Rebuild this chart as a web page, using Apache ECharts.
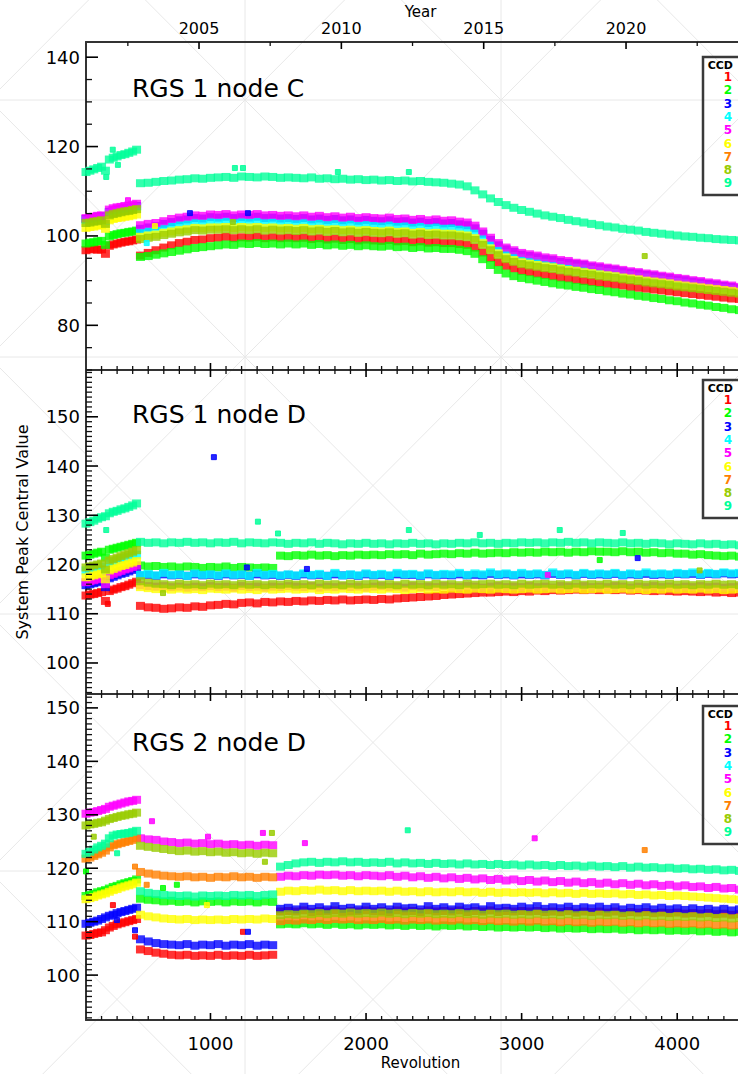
<!DOCTYPE html>
<html>
<head>
<meta charset="utf-8">
<script src="https://cdn.jsdelivr.net/npm/echarts@6/dist/echarts.min.js"></script>
<style>
html,body{margin:0;padding:0;background:#fff}
#chart{width:738px;height:1074px}
</style>
</head>
<body>
<div id="chart"></div>
<script>
// ---------- data ----------
const CCD_NAMES = ['1','2','3','4','5','6','7','8','9'];
const CCD_COLORS = ['#ff0000','#00ff00','#0000ff','#00ffff','#ff00ff','#ffff00','#ff8000','#99cc00','#00ff99'];
const PANEL_TITLES = ['RGS 1 node C','RGS 1 node D','RGS 2 node D'];
const REV_TICKS = [1000,2000,3000,4000];
const YEAR_TICKS = [2005,2010,2015,2020];
const YEAR_MINOR_TICKS = [2002.5,2007.5,2012.5,2017.5,2022.5];

// revolution sampling of the peak values
const REVS = [200,225,250,275,300,325,350,375,400,425,450,475,500,525,
  550,600,650,700,750,800,850,900,950,1000,
  1050,1100,1150,1200,1250,1300,1350,1400,1450,1500,
  1550,1600,1650,1700,1750,1800,1850,1900,1950,2000,
  2050,2100,2150,2200,2250,2300,2350,2400,2450,2500,
  2550,2600,2650,2700,2750,2800,2850,2900,2950,3000,
  3050,3100,3150,3200,3250,3300,3350,3400,3450,3500,
  3550,3600,3650,3700,3750,3800,3850,3900,3950,4000,
  4050,4100,4150,4200,4250,4300,4350,4400,4450];

// RGS 1 node C
const R1C_1 = [96.8,97.0,97.1,96.9,97.0,96.0,97.8,98.1,98.3,98.5,98.7,98.8,99.0,99.2,
  95.6,96.2,96.8,97.4,97.9,98.4,98.7,99.1,99.2,99.5,
  99.6,99.8,99.5,99.7,99.6,99.8,99.5,99.7,99.5,99.6,
  99.5,99.6,99.3,99.5,99.2,99.4,99.1,99.3,99.0,99.2,
  99.0,98.9,99.1,98.8,98.9,98.6,98.8,98.5,98.6,98.4,
  98.4,98.2,98.0,97.4,96.3,95.1,94.1,93.3,92.7,92.2,
  91.9,91.6,91.3,91.0,90.7,90.5,90.2,89.9,89.7,89.5,
  89.3,89.1,88.9,88.6,88.4,88.2,88.0,87.8,87.6,87.4,
  87.2,87.0,86.8,86.6,86.4,86.2,86.0,85.9,85.7];
const R1C_2 = [98.3,98.5,98.6,98.8,98.9,98.0,99.9,100.2,100.4,100.6,100.7,100.9,101.0,101.2,
  95.3,95.5,95.8,96.1,96.4,96.7,97.0,97.3,97.5,97.7,
  97.9,98.1,98.0,98.3,98.2,98.4,98.2,98.3,98.1,98.3,
  98.1,98.3,98.0,98.2,97.9,98.1,97.8,98.0,97.7,97.9,
  97.7,97.6,97.8,97.5,97.6,97.3,97.5,97.2,97.3,97.1,
  97.1,96.9,96.6,96.0,94.8,93.5,92.4,91.6,91.0,90.6,
  90.3,90.0,89.7,89.4,89.1,88.9,88.6,88.4,88.1,87.9,
  87.6,87.4,87.1,86.9,86.6,86.4,86.1,85.9,85.6,85.4,
  85.1,84.9,84.6,84.4,84.1,83.9,83.6,83.4,83.1];
const R1C_3 = [103.8,104.0,104.1,104.3,104.4,103.6,105.4,105.7,105.9,106.0,106.2,106.3,106.5,106.7,
  101.6,101.9,102.2,102.7,103.1,103.5,103.7,104.0,103.9,104.2,
  104.1,104.3,104.0,104.2,104.1,104.3,104.0,104.1,103.9,104.0,
  103.8,104.0,103.7,103.9,103.6,103.8,103.5,103.7,103.4,103.6,
  103.4,103.3,103.5,103.2,103.3,103.0,103.2,102.9,103.1,102.8,
  102.9,102.6,102.4,101.7,100.5,99.1,97.9,97.0,96.4,95.8,
  95.5,95.2,94.8,94.6,94.2,94.0,93.7,93.5,93.1,92.9,
  92.6,92.4,92.1,91.8,91.6,91.3,91.1,90.8,90.6,90.3,
  90.1,89.8,89.6,89.3,89.1,88.8,88.6,88.3,88.1];
const R1C_4 = [103.5,103.7,103.8,104.0,104.1,103.3,105.1,105.4,105.6,105.7,105.9,106.0,106.2,106.4,
  100.8,101.1,101.4,101.8,102.2,102.5,102.7,103.0,102.9,103.2,
  103.1,103.3,103.0,103.2,103.1,103.2,103.0,103.1,102.9,103.0,
  102.8,103.0,102.7,102.8,102.6,102.7,102.5,102.6,102.4,102.5,
  102.3,102.2,102.4,102.1,102.2,101.9,102.1,101.8,101.9,101.7,
  101.7,101.5,101.3,100.6,99.4,98.1,96.9,96.1,95.5,95.0,
  94.7,94.4,94.0,93.8,93.5,93.2,92.9,92.7,92.4,92.2,
  91.9,91.7,91.4,91.2,90.9,90.7,90.4,90.2,89.9,89.7,
  89.4,89.2,89.0,88.7,88.5,88.3,88.1,87.8,87.6];
const R1C_5 = [104.0,104.2,104.3,104.5,104.6,103.8,105.9,106.2,106.4,106.5,106.7,106.8,107.0,107.2,
  102.4,102.7,102.9,103.3,103.8,104.1,104.3,104.6,104.5,104.8,
  104.7,104.9,104.6,104.8,104.7,104.9,104.6,104.7,104.5,104.6,
  104.4,104.6,104.3,104.5,104.2,104.4,104.1,104.3,104.0,104.2,
  104.0,103.9,104.1,103.8,103.9,103.6,103.8,103.5,103.7,103.4,
  103.5,103.2,103.0,102.3,101.0,99.6,98.4,97.4,96.8,96.2,
  95.9,95.6,95.2,95.0,94.6,94.4,94.0,93.8,93.4,93.2,
  92.9,92.7,92.4,92.1,91.9,91.6,91.4,91.1,90.9,90.6,
  90.4,90.1,89.9,89.6,89.4,89.1,88.9,88.6,88.4];
const R1C_6 = [101.8,102.0,102.1,102.3,102.4,101.6,103.5,103.8,104.0,104.1,104.3,104.4,104.6,104.8,
  99.8,100.1,100.3,100.7,101.0,101.3,101.5,101.8,101.7,101.9,
  101.9,102.0,101.8,102.0,101.9,102.0,101.8,101.9,101.7,101.8,
  101.6,101.8,101.5,101.6,101.4,101.5,101.3,101.4,101.2,101.3,
  101.1,101.0,101.2,100.9,101.0,100.7,100.9,100.6,100.7,100.5,
  100.5,100.3,100.1,99.5,98.4,97.2,96.1,95.2,94.6,94.1,
  93.8,93.5,93.2,93.0,92.7,92.4,92.2,91.9,91.7,91.4,
  91.2,91.0,90.7,90.5,90.3,90.0,89.8,89.6,89.4,89.1,
  88.9,88.7,88.5,88.3,88.1,87.9,87.7,87.5,87.3];
const R1C_7 = [];
const R1C_8 = [102.9,103.0,103.2,103.3,103.5,102.7,104.6,104.9,105.1,105.3,105.5,105.6,105.8,106.0,
  99.3,99.6,99.8,100.2,100.5,100.8,101.0,101.3,101.2,101.4,
  101.4,101.5,101.3,101.5,101.3,101.5,101.2,101.4,101.2,101.3,
  101.1,101.3,101.0,101.2,100.9,101.1,100.8,101.0,100.7,100.9,
  100.7,100.6,100.8,100.5,100.6,100.3,100.5,100.2,100.3,100.1,
  100.1,99.9,99.7,99.1,98.0,96.8,95.7,94.8,94.2,93.7,
  93.4,93.1,92.8,92.6,92.3,92.0,91.8,91.5,91.3,91.0,
  90.8,90.6,90.3,90.1,89.9,89.6,89.4,89.2,89.0,88.7,
  88.5,88.3,88.1,87.9,87.7,87.5,87.3,87.1,86.9];
const R1C_9 = [114.3,114.6,114.9,115.2,115.5,114.6,117.1,117.5,117.8,118.1,118.3,118.6,118.9,119.3,
  111.8,111.9,112.1,112.3,112.4,112.6,112.7,112.9,112.8,113.0,
  113.1,113.2,113.0,113.3,113.2,113.1,113.3,113.2,113.0,113.1,
  113.0,112.9,113.1,112.8,112.9,112.7,112.8,112.6,112.7,112.5,
  112.6,112.4,112.5,112.3,112.4,112.2,112.3,112.1,112.0,111.9,
  111.7,111.5,111.1,110.2,109.3,108.4,107.6,106.9,106.3,105.8,
  105.4,105.0,104.6,104.3,104.0,103.6,103.3,103.0,102.7,102.4,
  102.1,101.9,101.6,101.4,101.2,100.9,100.7,100.5,100.3,100.1,
  99.9,99.8,99.6,99.5,99.3,99.2,99.1,99.0,98.9];
// isolated readings: [ccd, revolution, value]
const R1C_OUT = [[9,330,113.2],[9,372,119.3],[9,405,115.9],[9,1157,115.2],[9,1209,115.2],[9,1819,114.3],[9,2275,114.3],
  [3,868,105.1],[3,1241,105.1],[5,470,108.0],[8,1144,103.1],[4,590,98.4],[6,643,102.2],[8,3791,95.5]];

// RGS 1 node D
const R1D_1 = [113.7,113.9,114.0,114.2,114.4,112.6,114.6,114.9,115.1,115.4,115.6,115.9,116.2,116.5,
  111.6,111.3,111.2,111.0,111.1,111.3,111.2,111.5,111.4,111.7,
  111.8,112.0,111.9,112.2,112.3,112.1,112.4,112.3,112.5,112.4,
  112.6,112.5,112.7,112.6,112.8,112.7,112.9,112.7,112.8,112.9,
  112.8,113.0,112.9,113.1,113.2,113.3,113.4,113.5,113.6,113.8,
  113.9,114.0,114.1,114.2,114.3,114.3,114.4,114.5,114.4,114.6,
  114.5,114.7,114.6,114.8,114.7,114.8,114.9,114.8,114.9,114.8,
  114.9,114.8,114.9,114.7,114.8,114.7,114.6,114.7,114.6,114.5,
  114.6,114.5,114.4,114.5,114.3,114.4,114.2,114.3,114.2];
const R1D_2 = [121.8,122.0,122.2,122.4,122.6,121.4,123.0,123.2,123.4,123.6,123.8,124.0,124.2,124.4,
  119.8,119.6,119.7,119.5,119.6,119.4,119.6,119.5,119.3,119.5,
  119.4,119.6,119.3,119.5,119.4,119.3,119.4,119.3,121.8,121.7,
  121.9,121.8,122.0,121.8,121.9,121.7,121.9,121.8,122.0,121.9,
  122.0,121.9,122.1,122.0,122.1,121.9,122.2,122.0,122.1,122.2,
  122.1,122.3,122.2,122.4,122.2,122.3,122.4,122.3,122.5,122.4,
  122.5,122.4,122.6,122.5,122.6,122.4,122.6,122.5,122.7,122.6,
  122.6,122.5,122.7,122.5,122.6,122.4,122.5,122.3,122.4,122.2,
  122.2,122.0,122.1,121.9,121.8,121.7,121.8,121.6,121.6];
const R1D_3 = [115.8,116.0,116.2,116.4,116.6,115.4,117.2,117.5,117.8,118.1,118.3,118.6,118.9,119.2,
  117.8,117.9,117.7,118.0,117.8,117.9,117.7,118.0,117.8,117.9,
  117.7,118.0,117.8,117.9,117.7,118.0,117.8,117.9,117.7,117.9,
  117.7,118.0,117.8,117.9,117.7,118.0,117.8,117.9,117.7,118.0,
  117.8,117.9,117.7,118.0,117.9,117.9,117.7,118.0,117.8,117.9,
  117.8,118.0,117.8,117.9,117.8,118.1,117.9,118.0,117.8,118.0,
  117.9,118.0,117.8,118.1,117.9,118.0,117.8,118.1,117.9,118.0,
  117.9,118.1,117.8,118.0,117.9,118.1,117.9,118.0,117.9,118.1,
  118.0,118.1,117.9,118.1,118.0,118.2,118.0,118.1,118.0];
const R1D_4 = [118.8,119.0,119.2,119.4,119.6,118.4,120.2,120.5,120.8,121.0,121.3,121.5,121.8,122.0,
  117.9,118.1,117.8,118.3,117.9,118.0,117.7,118.2,117.9,118.0,
  117.8,118.2,117.9,118.0,117.7,118.3,117.9,118.1,117.8,118.0,
  117.8,118.2,117.9,118.1,117.7,118.3,117.8,118.0,117.8,118.2,
  117.9,118.1,117.8,118.3,118.0,118.1,117.8,118.2,117.9,118.1,
  118.0,118.3,117.9,118.2,118.0,118.4,118.0,118.2,117.9,118.3,
  118.0,118.2,117.9,118.4,118.0,118.2,117.9,118.3,118.0,118.2,
  118.0,118.3,117.9,118.2,118.0,118.4,118.1,118.2,118.0,118.3,
  118.1,118.4,118.0,118.3,118.1,118.4,118.2,118.3,118.1];
const R1D_5 = [116.4,116.6,116.8,117.0,117.2,116.0,117.8,118.1,118.4,118.7,119.0,119.2,119.5,119.8,
  115.8,115.6,115.5,115.6,115.4,115.5,115.3,115.5,115.4,115.6,
  115.4,115.5,115.3,115.6,115.4,115.5,115.3,115.5,115.4,115.6,
  115.5,115.4,115.6,115.3,115.5,115.4,115.6,115.4,115.5,115.3,
  115.5,115.6,115.4,115.5,115.3,115.6,115.4,115.5,115.4,115.6,
  115.5,115.4,115.6,115.5,115.3,115.5,115.6,115.4,115.5,115.4,
  115.6,115.4,115.5,115.3,115.6,115.5,115.4,115.6,115.4,115.5,
  115.4,115.6,115.5,115.3,115.5,115.4,115.6,115.4,115.5,115.3,
  115.5,115.4,115.6,115.4,115.5,115.3,115.4,115.5,115.3];
const R1D_6 = [117.4,117.6,117.8,118.0,118.2,117.0,118.8,119.1,119.4,119.7,119.9,120.2,120.4,120.7,
  115.4,115.2,115.0,115.1,114.9,115.1,114.9,115.0,114.8,115.1,
  115.0,114.9,115.1,114.9,115.0,114.8,115.1,114.9,115.0,115.1,
  114.9,115.0,115.1,114.8,115.0,114.9,115.1,115.0,114.9,115.1,
  115.0,114.9,115.1,115.0,114.8,115.0,115.1,114.9,115.0,114.9,
  115.1,115.0,114.9,115.1,115.0,114.9,115.1,115.0,114.9,115.0,
  115.1,114.9,115.0,115.1,114.9,115.0,115.1,114.9,115.0,115.1,
  114.9,115.0,115.1,114.9,115.0,114.8,115.0,114.9,115.1,114.9,
  115.0,114.9,115.1,114.9,115.0,114.8,114.9,115.0,114.8];
const R1D_7 = [];
const R1D_8 = [119.4,119.6,119.8,120.0,120.2,119.0,120.8,121.1,121.4,121.7,122.0,122.3,122.6,122.9,
  116.6,116.3,116.1,116.0,115.8,116.1,115.9,116.0,115.8,116.1,
  115.9,116.0,115.8,116.1,115.9,116.0,115.8,116.0,115.9,116.1,
  115.9,116.0,115.8,116.1,115.9,116.0,115.8,116.1,115.9,116.0,
  116.1,115.9,116.0,115.8,116.1,115.9,116.0,115.8,116.1,115.9,
  116.0,115.8,116.1,115.9,116.0,116.1,115.9,116.0,115.8,116.1,
  115.9,116.0,116.1,115.9,116.0,115.8,116.1,115.9,116.0,115.9,
  116.1,115.9,116.0,115.8,116.1,115.9,116.0,115.9,116.1,115.9,
  116.0,115.8,116.0,115.9,116.1,115.9,116.0,115.8,115.9];
const R1D_9 = [128.3,128.6,128.9,129.3,129.6,129.8,130.4,130.7,130.9,131.2,131.4,131.7,132.0,132.4,
  124.6,124.4,124.5,124.3,124.5,124.4,124.6,124.4,124.5,124.3,
  124.5,124.4,124.6,124.3,124.5,124.4,124.3,124.5,124.4,124.2,
  124.4,124.3,124.5,124.2,124.4,124.3,124.1,124.3,124.2,124.4,
  124.2,124.3,124.1,124.3,124.2,124.4,124.2,124.3,124.1,124.3,
  124.2,124.4,124.3,124.5,124.3,124.4,124.2,124.4,124.3,124.5,
  124.4,124.5,124.3,124.5,124.4,124.6,124.4,124.5,124.3,124.5,
  124.4,124.3,124.5,124.3,124.4,124.2,124.4,124.3,124.1,124.3,
  124.2,124.1,124.3,124.1,124.2,124.0,124.1,123.9,124.0];
const R1D_OUT = [[3,1022,141.8],[9,330,127.0],[9,1305,128.7],[9,1434,126.3],[9,2275,127.0],[9,2731,126.0],
  [9,3245,127.0],[9,3650,126.4],[2,3502,120.9],[3,1234,119.4],[3,1620,119.1],[3,3746,121.3],
  [5,3168,117.9],[1,340,112.0],[8,695,114.2],[8,4144,118.8]];

// RGS 2 node D
const R2D_1 = [107.4,107.5,107.7,107.9,108.0,108.4,108.9,109.2,109.5,109.7,109.9,110.1,110.3,110.5,
  104.8,104.5,104.2,104.0,103.8,103.7,103.8,103.6,103.7,103.6,
  103.8,103.6,103.7,103.6,103.8,103.6,103.7,103.8,111.9,112.0,
  111.9,112.1,111.8,112.0,111.9,112.1,111.8,112.0,111.9,112.1,
  111.9,112.0,111.8,112.1,111.9,112.0,111.8,112.1,111.9,112.0,
  111.9,112.1,111.8,112.0,111.9,112.1,111.8,112.0,111.9,112.0,
  111.9,112.0,111.8,111.9,111.8,112.0,111.7,111.9,111.8,111.9,
  111.7,111.9,111.6,111.8,111.7,111.8,111.6,111.7,111.6,111.7,
  111.5,111.6,111.5,111.6,111.4,111.5,111.3,111.4,111.3];
const R2D_2 = [114.8,115.0,115.2,115.5,115.7,115.9,116.2,116.5,116.7,117.0,117.2,117.4,117.6,117.9,
  114.3,114.1,114.0,113.8,113.9,113.7,113.8,113.6,113.8,113.7,
  113.8,113.6,113.8,113.7,113.8,113.6,113.8,113.7,109.5,109.6,
  109.5,109.7,109.5,109.6,109.4,109.6,109.4,109.5,109.3,109.5,
  109.4,109.5,109.3,109.4,109.2,109.4,109.2,109.3,109.1,109.3,
  109.2,109.3,109.1,109.2,109.0,109.1,108.9,109.0,108.9,109.0,
  108.9,109.0,108.8,108.9,108.7,108.8,108.7,108.8,108.6,108.7,
  108.6,108.7,108.5,108.6,108.4,108.5,108.4,108.5,108.3,108.4,
  108.3,108.4,108.2,108.3,108.1,108.2,108.0,108.1,107.9];
const R2D_3 = [109.6,109.8,110.0,110.2,110.5,110.8,111.1,111.3,111.6,111.8,112.0,112.2,112.4,112.6,
  106.7,106.3,106.0,105.8,105.7,105.6,105.8,105.5,105.7,105.6,
  105.8,105.5,105.7,105.6,105.8,105.5,105.7,105.6,112.4,112.6,
  112.3,112.8,112.4,112.7,112.3,112.9,112.4,112.6,112.3,112.8,
  112.4,112.7,112.3,112.8,112.5,112.6,112.3,112.9,112.4,112.7,
  112.3,112.8,112.5,112.7,112.3,112.9,112.5,112.6,112.4,112.8,
  112.5,112.9,112.4,112.7,112.5,112.8,112.4,112.7,112.5,112.8,
  112.4,112.7,112.3,112.6,112.4,112.7,112.3,112.6,112.3,112.5,
  112.2,112.5,112.2,112.4,112.1,112.4,112.1,112.3,112.0];
const R2D_4 = [];
const R2D_5 = [130.2,130.4,130.5,130.7,130.9,131.1,131.5,131.7,131.9,132.1,132.3,132.5,132.6,132.8,
  125.6,125.4,125.3,125.0,124.9,124.7,124.8,124.6,124.7,124.5,
  124.6,124.4,124.5,124.3,124.4,124.2,124.4,124.3,118.4,118.6,
  118.5,118.7,118.6,118.8,118.7,118.8,118.6,118.7,118.5,118.7,
  118.6,118.5,118.7,118.4,118.6,118.3,118.5,118.2,118.4,118.1,
  118.3,118.0,118.2,117.9,118.1,117.8,118.0,117.7,117.9,117.6,
  117.8,117.5,117.7,117.4,117.6,117.3,117.5,117.2,117.4,117.1,
  117.3,117.0,117.2,116.9,117.1,116.8,117.0,116.7,116.9,116.6,
  116.8,116.5,116.6,116.3,116.5,116.2,116.3,116.0,116.1];
const R2D_6 = [114.2,114.4,114.6,114.9,115.1,115.3,115.6,115.9,116.1,116.4,116.6,116.8,117.0,117.3,
  111.3,111.0,110.8,110.6,110.5,110.4,110.5,110.3,110.4,110.3,
  110.4,110.3,110.5,110.4,110.5,110.4,110.6,110.5,115.6,115.8,
  115.7,115.9,115.8,116.0,115.8,115.9,115.7,115.9,115.7,115.8,
  115.7,115.8,115.6,115.8,115.6,115.7,115.5,115.7,115.5,115.6,
  115.5,115.7,115.5,115.6,115.4,115.6,115.4,115.5,115.4,115.5,
  115.4,115.5,115.3,115.5,115.3,115.4,115.2,115.4,115.2,115.3,
  115.2,115.3,115.1,115.2,115.0,115.1,114.9,115.0,114.8,114.9,
  114.8,114.7,114.6,114.5,114.4,114.3,114.2,114.1,114.0];
const R2D_7 = [121.8,122.0,122.3,122.6,122.9,123.3,123.9,124.3,124.5,124.7,124.9,125.1,125.3,125.6,
  119.3,119.0,118.8,118.6,118.5,118.4,118.5,118.3,118.4,118.2,
  118.4,118.3,118.5,118.3,118.4,118.2,118.4,118.3,110.1,110.3,
  110.2,110.4,110.3,110.5,110.3,110.5,110.4,110.5,110.3,110.4,
  110.3,110.5,110.3,110.4,110.2,110.4,110.3,110.4,110.2,110.3,
  110.2,110.4,110.2,110.3,110.1,110.3,110.1,110.2,110.0,110.2,
  110.0,110.2,110.0,110.1,109.9,110.1,109.9,110.0,109.8,110.0,
  109.9,110.0,109.8,109.9,109.7,109.9,109.7,109.8,109.6,109.7,
  109.6,109.7,109.5,109.6,109.4,109.5,109.3,109.4,109.3];
const R2D_8 = [128.0,128.2,128.3,128.5,128.6,128.9,129.2,129.4,129.6,129.8,129.9,130.1,130.2,130.4,
  124.2,124.0,123.8,123.6,123.4,123.2,123.3,123.1,123.2,123.0,
  123.1,122.9,123.0,122.8,122.9,122.7,122.9,122.8,111.2,111.4,
  111.3,111.5,111.4,111.6,111.4,111.6,111.5,111.7,111.5,111.6,
  111.5,111.7,111.5,111.6,111.4,111.6,111.5,111.6,111.4,111.5,
  111.4,111.6,111.4,111.5,111.3,111.5,111.4,111.5,111.3,111.4,
  111.3,111.5,111.3,111.4,111.2,111.4,111.2,111.3,111.1,111.3,
  111.2,111.3,111.1,111.2,111.0,111.2,111.0,111.1,110.9,111.0,
  110.9,111.0,110.8,110.9,110.7,110.8,110.6,110.7,110.5];
const R2D_9 = [122.7,123.1,123.5,123.9,124.2,124.6,125.6,126.1,126.3,126.4,126.5,126.6,126.8,127.0,
  115.7,115.4,115.2,115.0,114.9,114.8,114.9,114.7,114.9,114.8,
  114.9,114.8,115.0,114.9,115.0,114.8,115.0,115.1,120.3,120.6,
  120.9,121.1,121.2,121.0,121.2,121.1,121.3,121.1,121.2,121.0,
  121.1,121.0,121.2,120.9,121.1,120.9,121.0,120.8,121.0,120.8,
  120.9,120.7,120.9,120.7,120.8,120.6,120.8,120.6,120.7,120.5,
  120.7,120.5,120.6,120.4,120.6,120.4,120.5,120.3,120.5,120.3,
  120.4,120.2,120.4,120.1,120.3,120.1,120.2,120.0,120.1,119.9,
  120.0,119.8,119.9,119.7,119.8,119.6,119.7,119.5,119.6];
const R2D_OUT = [[5,624,128.8],[5,984,125.9],[5,1337,126.6],[8,1395,126.6],[8,1350,121.2],[5,1607,124.7],
  [7,515,120.3],[7,590,116.9],[2,784,116.9],[2,695,116.3],[6,977,113.1],[3,515,108.4],[1,515,107.2],
  [1,1209,108.1],[3,1241,108.1],[1,373,113.1],[3,399,110.3],[9,2268,127.1],[5,3084,125.6],
  [7,3791,123.4],[2,200,119.4],[9,400,122.8],[8,250,125.9]];

// ---------- layout ----------
const FONT = 'DejaVu Sans';
const REV_MIN = 200, REV_MAX = 4500;
const YEAR_MIN = 2001.03, YEAR_MAX = 2024.53;
const PLOT_LEFT = 86;
const GRIDS = [{top:42,height:328},{top:370,height:324},{top:694,height:326}];
const Y_RANGES = [[70,143.4],[93.7,159.5],[91.6,152.6]];
const Y_MAJOR = [[80,100,120,140],[100,110,120,130,140,150],[100,110,120,130,140,150]];
const Y_MINOR_STEP = [5,1,1];
const LEGEND_TOP = [57,380,706];
const TITLE_Y = [90.5,417,745];
const BANDS = [
  [R1C_1,R1C_2,R1C_3,R1C_4,R1C_5,R1C_6,R1C_7,R1C_8,R1C_9],
  [R1D_1,R1D_2,R1D_3,R1D_4,R1D_5,R1D_6,R1D_7,R1D_8,R1D_9],
  [R2D_1,R2D_2,R2D_3,R2D_4,R2D_5,R2D_6,R2D_7,R2D_8,R2D_9]
];
const OUTLIERS = [R1C_OUT, R1D_OUT, R2D_OUT];

function steps(a, b, s) {
  const out = [];
  for (let v = a; v <= b + 1e-9; v += s) out.push(+v.toFixed(3));
  return out;
}
const REV_MINOR = steps(300, 4500, 100).filter(v => REV_TICKS.indexOf(v) < 0);
const plain = v => String(Math.round(v));
const AXIS_LINE = {show:true, onZero:false, lineStyle:{color:'#333', width:2}};

// axes: per panel, xAxis 2p = revolution (bottom), 2p+1 = top; yAxis p = left
const xAxes = [];
const yAxes = [];
for (let p = 0; p < 3; p++) {
  const isLast = p === 2;
  const bottom = {
    gridIndex:p, type:'value', min:REV_MIN, max:REV_MAX, position:'bottom',
    axisLine:AXIS_LINE, axisTick:{show:false}, splitLine:{show:false},
    axisLabel:{show:isLast, customValues:REV_TICKS, formatter:plain, fontSize:18, color:'#000', fontFamily:FONT, margin:14}
  };
  if (isLast) Object.assign(bottom, {name:'Revolution', nameLocation:'middle', nameGap:35,
    nameTextStyle:{fontSize:15, color:'#000', fontFamily:FONT}});
  xAxes.push(bottom);
  if (p === 0) {
    xAxes.push({
      gridIndex:p, type:'value', min:YEAR_MIN, max:YEAR_MAX, position:'top',
      axisLine:AXIS_LINE, axisTick:{show:false}, splitLine:{show:false},
      axisLabel:{show:true, customValues:YEAR_TICKS, formatter:plain, fontSize:16, color:'#000', fontFamily:FONT, margin:6},
      name:'Year', nameLocation:'middle', nameGap:20,
      nameTextStyle:{fontSize:15, color:'#000', fontFamily:FONT}
    });
  } else {
    xAxes.push({
      gridIndex:p, type:'value', min:REV_MIN, max:REV_MAX, position:'top',
      axisLine:AXIS_LINE, axisTick:{show:false}, axisLabel:{show:false}, splitLine:{show:false}
    });
  }
  const [ymin, ymax] = Y_RANGES[p];
  const yMain = {
    gridIndex:p, type:'value', min:ymin, max:ymax, position:'left',
    axisLine:AXIS_LINE, axisTick:{show:false}, splitLine:{show:false},
    axisLabel:{show:true, customValues:Y_MAJOR[p], formatter:plain, fontSize:18, color:'#000', fontFamily:FONT, margin:6}
  };
  if (p === 1) {
    Object.assign(yMain, {name:'System Peak Central Value', nameLocation:'middle', nameRotate:90, nameGap:56,
      nameTextStyle:{fontSize:16, color:'#000', fontFamily:FONT}});
  }
  yAxes.push(yMain);
}

const series = [];
for (let p = 0; p < 3; p++) {
  BANDS[p].forEach((vals, c) => {
    if (!vals.length) return;
    const data = [];
    vals.forEach((v, i) => { if (v != null) data.push([REVS[i], v]); });
    series.push({
      type:'scatter', name:'CCD ' + CCD_NAMES[c], xAxisIndex:2 * p, yAxisIndex:p,
      symbol:'rect', symbolSize:[9, 8], itemStyle:{color:CCD_COLORS[c]},
      data:data, silent:true, animation:false
    });
  });
  for (let c = 0; c < 9; c++) {
    const pts = OUTLIERS[p].filter(o => o[0] === c + 1).map(o => [o[1], o[2]]);
    if (!pts.length) continue;
    series.push({
      type:'scatter', xAxisIndex:2 * p, yAxisIndex:p,
      symbol:'rect', symbolSize:5,
      itemStyle:{color:CCD_COLORS[c], opacity:0.85, borderColor:CCD_COLORS[c], borderWidth:1},
      data:pts, silent:true, animation:false
    });
  }
}

const chart = echarts.init(document.getElementById('chart'), null, {renderer:'svg', width:738, height:1074});
chart.setOption({
  animation:false,
  backgroundColor:'#ffffff',
  grid:GRIDS.map(g => ({left:PLOT_LEFT, right:-17, top:g.top, height:g.height, containLabel:false, outerBoundsMode:'none', show:false})),
  xAxis:xAxes,
  yAxis:yAxes,
  series:series
});

// ---------- decorations ----------
const graphics = [];

// light diagonal lattice in the page background
const LX0 = 245, LDX = 256, LY0 = 100, LDY = 257;
const lat = {stroke:'#e8e8e8', lineWidth:1};
for (let i = -1; i <= 2; i++) {
  const x = LX0 + LDX * i;
  graphics.push({type:'line', z:-10, silent:true, shape:{x1:x, y1:0, x2:x, y2:1074}, style:lat});
}
for (let j = -1; j <= 4; j++) {
  const y = LY0 + LDY * j;
  graphics.push({type:'line', z:-10, silent:true, shape:{x1:0, y1:y, x2:738, y2:y}, style:lat});
}
for (let i = -1; i <= 2; i++) {
  for (let j = -1; j <= 4; j++) {
    const xa = LX0 + LDX * i, xb = xa + LDX, ya = LY0 + LDY * j, yb = ya + LDY;
    graphics.push({type:'line', z:-10, silent:true, shape:{x1:xa, y1:ya, x2:xb, y2:yb}, style:lat});
    graphics.push({type:'line', z:-10, silent:true, shape:{x1:xb, y1:ya, x2:xa, y2:yb}, style:lat});
  }
}

// inward tick marks, placed through the axes' own scales
const majorTick = {stroke:'#000', lineWidth:1.6};
const minorTick = {stroke:'#111', lineWidth:1.3};
function vTick(x, y, len, style) {
  graphics.push({type:'line', z:40, silent:true, shape:{x1:x, y1:y, x2:x, y2:y + len}, style:style});
}
function hTick(x, y, len, style) {
  graphics.push({type:'line', z:40, silent:true, shape:{x1:x, y1:y, x2:x + len, y2:y}, style:style});
}
for (let p = 0; p < 3; p++) {
  const top = GRIDS[p].top, bottom = GRIDS[p].top + GRIDS[p].height;
  const revX = v => chart.convertToPixel({xAxisIndex:2 * p}, v);
  REV_TICKS.forEach(v => vTick(revX(v), bottom, -7, majorTick));
  REV_MINOR.forEach(v => vTick(revX(v), bottom, -4, minorTick));
  if (p === 0) {
    const yrX = v => chart.convertToPixel({xAxisIndex:1}, v);
    YEAR_TICKS.forEach(v => vTick(yrX(v), top, 7, majorTick));
    YEAR_MINOR_TICKS.forEach(v => vTick(yrX(v), top, 4, minorTick));
  } else {
    REV_TICKS.forEach(v => vTick(revX(v), top, 7, majorTick));
    REV_MINOR.forEach(v => vTick(revX(v), top, 4, minorTick));
  }
  const [ymin, ymax] = Y_RANGES[p];
  const yPx = v => chart.convertToPixel({yAxisIndex:p}, v);
  Y_MAJOR[p].forEach(v => hTick(PLOT_LEFT, yPx(v), 12, majorTick));
  steps(Math.ceil(ymin / Y_MINOR_STEP[p]) * Y_MINOR_STEP[p], ymax, Y_MINOR_STEP[p])
    .filter(v => Y_MAJOR[p].indexOf(v) < 0)
    .forEach(v => hTick(PLOT_LEFT, yPx(v), 6, minorTick));
}

// panel titles and CCD keys
for (let p = 0; p < 3; p++) {
  graphics.push({type:'text', z:50, silent:true, left:132, top:TITLE_Y[p] - 15,
    style:{text:PANEL_TITLES[p], fontSize:25, fontFamily:FONT, fill:'#000'}});
  const t = LEGEND_TOP[p];
  graphics.push({type:'rect', z:50, silent:true, shape:{x:703, y:t, width:70, height:138},
    style:{fill:'none', stroke:'#3a3a3a', lineWidth:2.5}});
  graphics.push({type:'text', z:51, silent:true, x:733, y:t + 8,
    style:{text:'CCD', fontSize:11, fontWeight:'bold', fontFamily:FONT, fill:'#000', align:'right', verticalAlign:'middle'}});
  CCD_NAMES.forEach((n, k) => {
    graphics.push({type:'text', z:51, silent:true, x:732, y:t + 20 + 13.3 * k,
      style:{text:n, fontSize:12, fontWeight:'bold', fontFamily:FONT, fill:CCD_COLORS[k], align:'right', verticalAlign:'middle'}});
  });
}

chart.setOption({graphic:{elements:graphics}});
</script>
</body>
</html>
